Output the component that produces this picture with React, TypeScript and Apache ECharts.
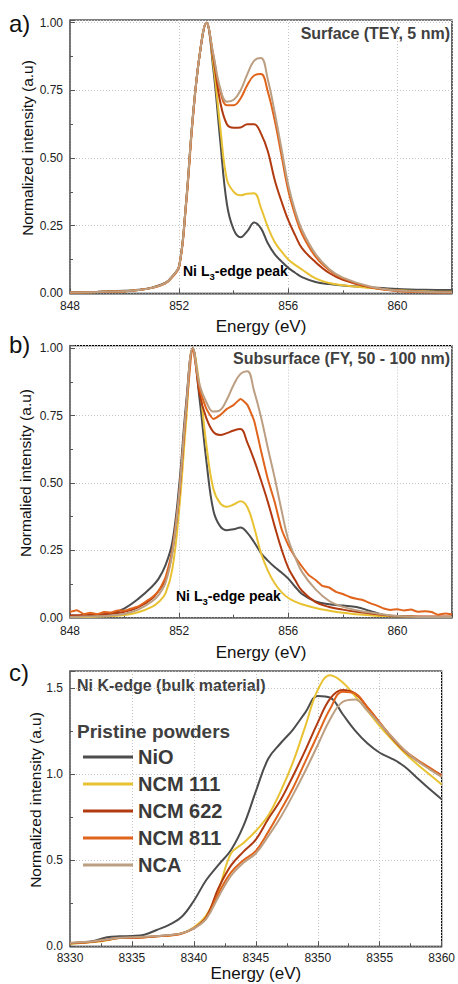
import React, { useEffect, useRef } from 'react';
import * as echarts from 'echarts';

const seriesNames = ['NiO', 'NCM 111', 'NCM 622', 'NCM 811', 'NCA'];
const seriesColors = ['#4d4d4d', '#e8c232', '#b13a10', '#e0641c', '#bc9f82'];

// Panel a: Surface (TEY)
const energyA = [848, 849, 850, 850.5, 851, 851.5, 851.75, 852, 852.25, 852.5, 852.75, 853, 853.25, 853.5, 853.75, 854, 854.25, 854.5, 854.75, 855, 855.25, 855.5, 855.75, 856, 856.25, 856.5, 857, 857.5, 858, 859, 860, 861, 862];
const aNiO = [0.004, 0.006, 0.009, 0.013, 0.021, 0.039, 0.063, 0.1, 0.33, 0.65, 0.88, 1.0, 0.83, 0.57, 0.33, 0.235, 0.207, 0.23, 0.262, 0.24, 0.185, 0.145, 0.118, 0.094, 0.076, 0.06, 0.042, 0.034, 0.029, 0.022, 0.016, 0.013, 0.012];
const aNCM111 = [0.003, 0.005, 0.008, 0.012, 0.02, 0.038, 0.062, 0.1, 0.33, 0.65, 0.88, 1.0, 0.85, 0.62, 0.42, 0.375, 0.362, 0.368, 0.37, 0.315, 0.245, 0.19, 0.155, 0.125, 0.105, 0.088, 0.055, 0.038, 0.03, 0.02, 0.011, 0.007, 0.006];
const aNCM622 = [0.003, 0.005, 0.008, 0.012, 0.02, 0.038, 0.062, 0.1, 0.33, 0.65, 0.88, 1.0, 0.87, 0.71, 0.625, 0.612, 0.613, 0.625, 0.625, 0.59, 0.525, 0.42, 0.34, 0.27, 0.215, 0.167, 0.115, 0.075, 0.05, 0.022, 0.01, 0.005, 0.004];
const aNCM811 = [0.003, 0.005, 0.008, 0.012, 0.02, 0.037, 0.06, 0.097, 0.32, 0.64, 0.88, 1.0, 0.88, 0.75, 0.695, 0.695, 0.72, 0.77, 0.805, 0.81, 0.745, 0.64, 0.51, 0.38, 0.29, 0.22, 0.135, 0.085, 0.055, 0.022, 0.008, 0.004, 0.003];
const aNCA = [0.003, 0.005, 0.008, 0.012, 0.02, 0.038, 0.062, 0.1, 0.33, 0.65, 0.88, 1.0, 0.885, 0.76, 0.708, 0.715, 0.75, 0.81, 0.86, 0.87, 0.79, 0.67, 0.535, 0.4, 0.305, 0.235, 0.145, 0.09, 0.058, 0.025, 0.01, 0.006, 0.004];

// Panel b: Subsurface (FY)
const energyB = [848, 848.5, 849, 849.5, 850, 850.5, 851, 851.25, 851.5, 851.75, 852, 852.25, 852.5, 852.75, 853, 853.25, 853.5, 853.75, 854, 854.25, 854.5, 854.75, 855, 855.25, 855.5, 855.75, 856, 856.25, 856.5, 857, 857.5, 858, 858.5, 859, 859.5, 860, 860.5, 861, 861.5, 862];
const bNiO = [0.008, 0.007, 0.008, 0.015, 0.035, 0.07, 0.115, 0.145, 0.195, 0.28, 0.49, 0.79, 1.0, 0.81, 0.58, 0.4, 0.34, 0.325, 0.328, 0.335, 0.315, 0.28, 0.24, 0.212, 0.188, 0.168, 0.145, 0.115, 0.088, 0.06, 0.05, 0.045, 0.04, 0.025, 0.01, 0.004, 0.003, 0.003, 0.003, 0.003];
const bNCM111 = [0.003, 0.003, 0.004, 0.006, 0.01, 0.02, 0.04, 0.058, 0.09, 0.18, 0.4, 0.72, 1.0, 0.86, 0.64, 0.48, 0.425, 0.412, 0.42, 0.432, 0.41, 0.335, 0.24, 0.175, 0.128, 0.095, 0.073, 0.06, 0.05, 0.036, 0.026, 0.018, 0.013, 0.009, 0.006, 0.005, 0.004, 0.003, 0.003, 0.003];
const bNCM622 = [0.008, 0.01, 0.012, 0.015, 0.022, 0.038, 0.07, 0.1, 0.14, 0.245, 0.455, 0.77, 1.0, 0.83, 0.74, 0.69, 0.678, 0.685, 0.695, 0.7, 0.65, 0.585, 0.51, 0.43, 0.34, 0.255, 0.185, 0.14, 0.1, 0.058, 0.04, 0.03, 0.022, 0.016, 0.01, 0.006, 0.005, 0.004, 0.004, 0.004];
const bNCA = [0.003, 0.004, 0.005, 0.008, 0.015, 0.03, 0.06, 0.085, 0.13, 0.24, 0.46, 0.77, 1.0, 0.865, 0.8, 0.765, 0.77, 0.81, 0.865, 0.905, 0.915, 0.84, 0.745, 0.63, 0.52, 0.4, 0.29, 0.225, 0.17, 0.105, 0.062, 0.04, 0.028, 0.019, 0.012, 0.006, 0.004, 0.003, 0.003, 0.003];
const energyB811 = [848, 848.25, 848.5, 848.75, 849, 849.25, 849.5, 849.75, 850, 850.25, 850.5, 850.75, 851, 851.25, 851.5, 851.75, 852, 852.25, 852.5, 852.75, 853, 853.25, 853.5, 853.75, 854, 854.25, 854.5, 854.75, 855, 855.25, 855.5, 855.75, 856, 856.25, 856.5, 856.75, 857, 857.25, 857.5, 857.75, 858, 858.25, 858.5, 858.75, 859, 859.25, 859.5, 859.75, 860, 860.25, 860.5, 860.75, 861, 861.25, 861.5, 861.75, 862];
const bNCM811 = [0.022, 0.028, 0.014, 0.018, 0.013, 0.021, 0.019, 0.027, 0.026, 0.034, 0.042, 0.058, 0.075, 0.1, 0.15, 0.25, 0.45, 0.76, 1.0, 0.85, 0.775, 0.738, 0.752, 0.775, 0.79, 0.812, 0.79, 0.73, 0.62, 0.515, 0.43, 0.33, 0.27, 0.225, 0.19, 0.158, 0.14, 0.118, 0.112, 0.096, 0.088, 0.077, 0.07, 0.065, 0.054, 0.045, 0.034, 0.029, 0.031, 0.027, 0.03, 0.022, 0.024, 0.021, 0.011, 0.016, 0.013];

// Panel c: Ni K-edge
const energyC = [8330, 8331, 8332, 8333, 8334, 8335, 8336, 8337, 8338, 8339, 8340, 8341, 8342, 8343, 8344, 8345, 8346, 8347, 8348, 8349, 8350, 8351, 8352, 8353, 8354, 8355, 8356, 8357, 8358, 8359, 8360];
const cNiO = [0.016, 0.022, 0.033, 0.052, 0.058, 0.06, 0.067, 0.095, 0.125, 0.17, 0.265, 0.385, 0.475, 0.56, 0.7, 0.9, 1.09, 1.18, 1.26, 1.36, 1.455, 1.445, 1.35, 1.255, 1.18, 1.125, 1.09, 1.045, 0.98, 0.915, 0.855];
const cNCM111 = [0.015, 0.02, 0.025, 0.035, 0.048, 0.048, 0.052, 0.058, 0.062, 0.075, 0.11, 0.18, 0.33, 0.54, 0.6, 0.67, 0.76, 0.9, 1.07, 1.28, 1.49, 1.575, 1.535, 1.455, 1.37, 1.28, 1.2, 1.125, 1.06, 1.0, 0.94];
const cNCM622 = [0.018, 0.022, 0.028, 0.038, 0.048, 0.048, 0.052, 0.058, 0.065, 0.075, 0.105, 0.17, 0.34, 0.47, 0.55, 0.62, 0.74, 0.85, 0.99, 1.14, 1.3, 1.44, 1.49, 1.47, 1.39, 1.3, 1.21, 1.135, 1.08, 1.035, 0.995];
const cNCM811 = [0.018, 0.022, 0.028, 0.038, 0.048, 0.05, 0.053, 0.058, 0.062, 0.072, 0.105, 0.165, 0.31, 0.43, 0.5, 0.555, 0.665, 0.79, 0.92, 1.075, 1.23, 1.38, 1.48, 1.47, 1.39, 1.3, 1.215, 1.14, 1.085, 1.04, 0.99];
const cNCA = [0.02, 0.025, 0.03, 0.04, 0.05, 0.052, 0.055, 0.06, 0.065, 0.075, 0.105, 0.16, 0.29, 0.41, 0.485, 0.54, 0.64, 0.75, 0.88, 1.02, 1.17, 1.32, 1.42, 1.435, 1.37, 1.295, 1.215, 1.14, 1.08, 1.03, 0.985];

const FONT = '"Liberation Sans", Arial, sans-serif';

function zip(xs: number[], ys: number[]) {
  return xs.map((x, i) => [x, ys[i]]);
}

function makeX(gridIndex: number, min: number, max: number, interval: number, gap: number, labelMargin: number) {
  return {
    type: 'value', gridIndex, min, max, interval,
    name: 'Energy (eV)', nameLocation: 'middle', nameGap: gap,
    nameTextStyle: { fontFamily: FONT, fontSize: 17, color: '#111' },
    axisLine: { show: true, onZero: false, lineStyle: { color: '#777', width: 1.5 } },
    axisTick: { show: true, inside: true, length: 5, lineStyle: { color: '#555' } },
    minorTick: { show: true, splitNumber: 2, length: 3, lineStyle: { color: '#555' } },
    axisLabel: { fontFamily: FONT, fontSize: 12, color: '#222', margin: labelMargin, showMaxLabel: min === 8330, formatter: (v: number) => String(v) },
    splitLine: { show: true, lineStyle: { type: [1, 2], color: '#c4c4c4', width: 1 } },
  };
}

function makeY(gridIndex: number, max: number, interval: number, decimals: number) {
  return {
    type: 'value', gridIndex, min: 0, max, interval,
    axisLine: { show: true, onZero: false, lineStyle: { color: '#777', width: 1.5 } },
    axisTick: { show: true, inside: true, length: 5, lineStyle: { color: '#555' } },
    minorTick: { show: true, splitNumber: 2, length: 3, lineStyle: { color: '#555' } },
    axisLabel: { fontFamily: FONT, fontSize: 12, color: '#222', margin: 7, showMaxLabel: false, formatter: (v: number) => v.toFixed(decimals) },
    splitLine: { show: true, lineStyle: { type: [1, 2], color: '#c4c4c4', width: 1 } },
  };
}

function lineSeries(name: string, color: string, data: number[][], idx: number, smooth: boolean | number) {
  return {
    type: 'line', name, data, xAxisIndex: idx, yAxisIndex: idx,
    symbol: 'none', smooth, lineStyle: { color, width: 2 }, itemStyle: { color },
  };
}

export default function App() {
  const ref = useRef<HTMLDivElement>(null);
  useEffect(() => {
    if (!ref.current) return;
    const chart = echarts.init(ref.current, undefined, { renderer: 'svg' });
    const aData = [aNiO, aNCM111, aNCM622, aNCM811, aNCA];
    const bData = [bNiO, bNCM111, bNCM622, null, bNCA];
    const cData = [cNiO, cNCM111, cNCM622, cNCM811, cNCA];
    const series: any[] = [];
    seriesNames.forEach((n, i) => series.push(lineSeries(n, seriesColors[i], zip(energyA, aData[i]), 0, 0.4)));
    seriesNames.forEach((n, i) => {
      const d = i === 3 ? zip(energyB811, bNCM811) : zip(energyB, bData[i] as number[]);
      series.push(lineSeries(n, seriesColors[i], d, 1, i === 3 ? 0.15 : 0.4));
    });
    seriesNames.forEach((n, i) => series.push(lineSeries(n, seriesColors[i], zip(energyC, cData[i]), 2, 0.4)));

    const labelStyle = { fill: '#404040', fontFamily: FONT, fontWeight: 'bold' };
    const richPeak = {
      a: { fontFamily: FONT, fontWeight: 'bold', fontSize: 14, color: '#404040', lineHeight: 20, verticalAlign: 'middle' },
      s: { fontFamily: FONT, fontWeight: 'bold', fontSize: 9.5, color: '#404040', lineHeight: 10, verticalAlign: 'bottom' },
    };
    const yName = (text: string, x: number, y: number) => ({
      type: 'text', x, y, rotation: Math.PI / 2,
      style: { text, fontFamily: FONT, fontSize: 15.5, fill: '#111', align: 'center', verticalAlign: 'middle' },
    });

    chart.setOption({
      animation: false,
      backgroundColor: '#fff',
      grid: [
        { left: 70, top: 20, width: 382, height: 273.3, show: true, borderColor: '#000', borderWidth: 1.2 },
        { left: 70, top: 345.6, width: 382, height: 272.1, show: true, borderColor: '#000', borderWidth: 1.2 },
        { left: 70, top: 671, width: 372, height: 275.3, show: true, borderColor: '#000', borderWidth: 1.2 },
      ],
      xAxis: [
        makeX(0, 848, 862, 4, 25, 7),
        makeX(1, 848, 862, 4, 26, 7),
        makeX(2, 8330, 8360, 5, 18, 6),
      ],
      yAxis: [
        makeY(0, 1.01, 0.25, 2),
        makeY(1, 1.01, 0.25, 2),
        makeY(2, 1.6, 0.5, 1),
      ],
      legend: {
        data: seriesNames,
        orient: 'vertical', left: 78, top: 742,
        icon: 'rect', itemWidth: 50, itemHeight: 3, itemGap: 7,
        textStyle: { fontFamily: FONT, fontSize: 20, fontWeight: 'bold', color: '#3a3a3a', lineHeight: 20 },
        selectedMode: false,
      },
      graphic: [
        yName('Normalized intensity (a.u)', 27, 148),
        yName('Normalied intensity (a.u)', 25, 473),
        yName('Normalized intensity (a.u)', 35, 800),
        { type: 'text', x: 9, y: 23, style: { text: 'a)', fontFamily: FONT, fontSize: 24, fill: '#111', verticalAlign: 'middle' } },
        { type: 'text', x: 9, y: 344, style: { text: 'b)', fontFamily: FONT, fontSize: 24, fill: '#111', verticalAlign: 'middle' } },
        { type: 'text', x: 9, y: 672, style: { text: 'c)', fontFamily: FONT, fontSize: 24, fill: '#111', verticalAlign: 'middle' } },
        { type: 'text', x: 450, y: 33, style: { ...labelStyle, text: 'Surface (TEY, 5 nm)', fontSize: 16, align: 'right', verticalAlign: 'middle' } },
        { type: 'text', x: 450, y: 358, style: { ...labelStyle, text: 'Subsurface (FY, 50 - 100 nm)', fontSize: 16, align: 'right', verticalAlign: 'middle' } },
        { type: 'text', x: 183, y: 271, style: { text: '{a|Ni L}{s|3}{a|-edge peak}', rich: richPeak, verticalAlign: 'middle' } },
        { type: 'text', x: 176, y: 596, style: { text: '{a|Ni L}{s|3}{a|-edge peak}', rich: richPeak, verticalAlign: 'middle' } },
        { type: 'text', x: 77, y: 685, style: { ...labelStyle, text: 'Ni K-edge (bulk material)', fontSize: 16, verticalAlign: 'middle' } },
        { type: 'text', x: 77, y: 731, style: { ...labelStyle, text: 'Pristine powders', fontSize: 19, verticalAlign: 'middle' } },
      ],
      series,
    });
    return () => chart.dispose();
  }, []);
  return <div ref={ref} style={{ position: 'fixed', left: 0, top: 0, width: 458, height: 984 }} />;
}
